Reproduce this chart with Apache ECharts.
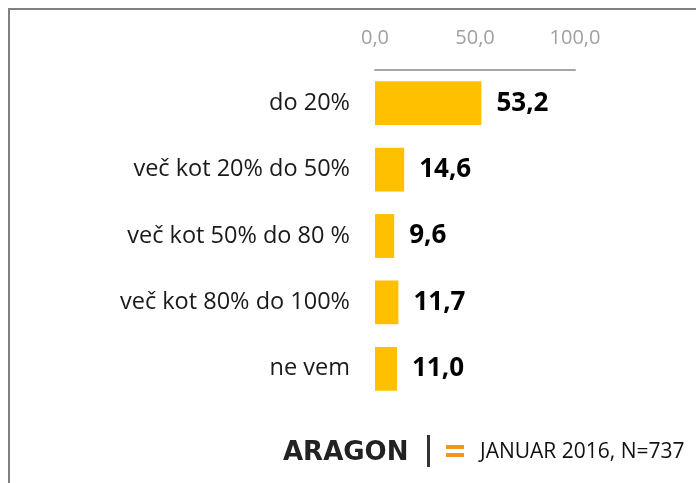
<!DOCTYPE html>
<html lang="sl">
<head>
    <meta charset="UTF-8">
    <title>Aragon januar 2016</title>
    <style>
        html, body { margin: 0; padding: 0; background: #fff; }
    </style>
</head>
<body>
    <script src="https://cdn.jsdelivr.net/npm/echarts@6/dist/echarts.min.js"></script>
    <div id="main" style="width: 696px;height:483px;"></div>
    <script>
        // kategorije in vrednosti (v %)
        var categories = ['do 20%', 'več kot 20% do 50%', 'več kot 50% do 80 %', 'več kot 80% do 100%', 'ne vem'];
        var values = [53.2, 14.6, 9.6, 11.7, 11.0];
        var axisTicks = [0, 50, 100];

        var font = 'Open Sans, Noto Sans, sans-serif';

        function comma(v) {
            return Number(v).toFixed(1).replace('.', ',');
        }

        var myChart = echarts.init(document.getElementById('main'));

        var option = {
            animation: false,
            grid: {
                left: 375,
                right: 121,
                top: 70,
                height: 332
            },
            xAxis: {
                type: 'value',
                position: 'top',
                min: axisTicks[0],
                max: axisTicks[axisTicks.length - 1],
                interval: axisTicks[1] - axisTicks[0],
                axisLine: { show: true, lineStyle: { color: '#a6a6a6', width: 2 } },
                axisTick: { show: false },
                splitLine: { show: false },
                axisLabel: {
                    margin: 22,
                    color: '#a0a0a0',
                    fontSize: 20,
                    fontFamily: font,
                    formatter: comma
                }
            },
            yAxis: {
                type: 'category',
                inverse: true,
                data: categories,
                axisLine: { show: false },
                axisTick: { show: false },
                axisLabel: {
                    margin: 25,
                    color: '#1a1a1a',
                    fontSize: 23.5,
                    fontFamily: font
                }
            },
            series: [{
                type: 'bar',
                data: values,
                barCategoryGap: '34%',
                itemStyle: { color: '#ffc000' },
                label: {
                    show: true,
                    position: 'right',
                    distance: 15,
                    color: '#000',
                    fontSize: 26,
                    fontWeight: 'bold',
                    fontFamily: font,
                    formatter: function (p) { return comma(p.value); }
                }
            }],
            graphic: [
                { type: 'line', shape: { x1: 8, y1: 9, x2: 696, y2: 9 }, style: { stroke: '#808080', lineWidth: 2 } },
                { type: 'line', shape: { x1: 9, y1: 8, x2: 9, y2: 483 }, style: { stroke: '#808080', lineWidth: 2 } },
                {
                    type: 'text', x: 283, y: 453,
                    style: { text: 'ARAGON', fill: '#222', font: 'bold 26px DejaVu Sans, sans-serif', verticalAlign: 'middle' }
                },
                { type: 'rect', shape: { x: 427, y: 435, width: 3, height: 32 }, style: { fill: '#333' } },
                { type: 'rect', shape: { x: 446, y: 445, width: 18, height: 4 }, style: { fill: '#f7941d' } },
                { type: 'rect', shape: { x: 446, y: 453, width: 18, height: 4 }, style: { fill: '#f7941d' } },
                {
                    type: 'text', x: 480, y: 452,
                    style: { text: 'JANUAR 2016, N=737', fill: '#111', font: '21px ' + font, verticalAlign: 'middle' }
                }
            ]
        };
        myChart.setOption(option);
    </script>
</body>
</html>
